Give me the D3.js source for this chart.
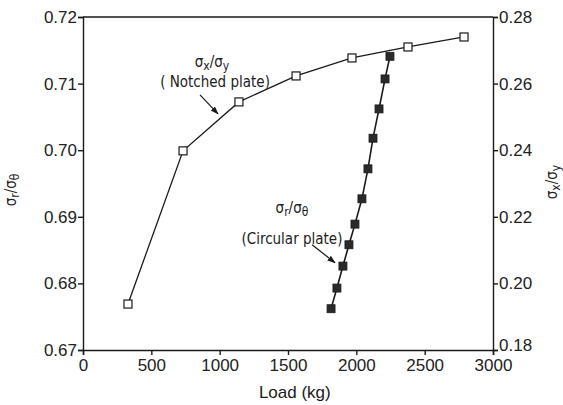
<!DOCTYPE html>
<html><head><meta charset="utf-8">
<script src="https://cdn.jsdelivr.net/npm/d3@7"></script>
<style>
html,body{margin:0;padding:0;background:#fff;}
svg{display:block;}
.tick text{font-family:"Liberation Sans",Arial,sans-serif;font-size:17px;fill:#222;}
.ann{font-family:"Liberation Sans Narrow","DejaVu Sans Condensed","Liberation Sans",sans-serif;font-size:15px;fill:#222;}
</style></head>
<body>
<script>
// Data
const xTicks = [0, 500, 1000, 1500, 2000, 2500, 3000];
const leftTicks = [0.67, 0.68, 0.69, 0.70, 0.71, 0.72];
const rightTicks = [0.18, 0.20, 0.22, 0.24, 0.26, 0.28];

// Notched plate: sigma_x / sigma_y (right axis)
const notchedLoad = [329, 732, 1141, 1559, 1968, 2378, 2788];
const notchedRatio = [0.1938, 0.2398, 0.2545, 0.2623, 0.2677, 0.2710, 0.2740];

// Circular plate: sigma_r / sigma_theta (left axis)
const circLoad = [1815, 1858, 1902, 1946, 1990, 2041, 2085, 2122, 2166, 2210, 2246];
const circRatio = [0.6762, 0.6793, 0.6826, 0.6858, 0.6889, 0.6927, 0.6972, 0.7018, 0.7062, 0.7107, 0.7141];

const W = 563, H = 405;
const svg = d3.select("body").append("svg").attr("width", W).attr("height", H);

const x = d3.scaleLinear().domain([0, 3000]).range([83, 493]);
const yL = d3.scaleLinear().domain([0.67, 0.72]).range([350, 17]);
const yR = d3.scaleLinear().domain([0.18, 0.28]).range([350, 17]);

const ink = "#1a1a1a";

// frame top line
svg.append("line").attr("x1", x(0)).attr("x2", x(3000)).attr("y1", yL(0.72)).attr("y2", yL(0.72))
  .attr("stroke", ink).attr("stroke-width", 1.4);

const xa = svg.append("g").attr("transform", `translate(0,${yL(0.67)})`)
  .call(d3.axisBottom(x).tickValues(xTicks).tickSize(5).tickPadding(4).tickFormat(d3.format("d")));
const la = svg.append("g").attr("transform", `translate(${x(0)},0)`)
  .call(d3.axisLeft(yL).tickValues(leftTicks).tickSize(5).tickPadding(1).tickFormat(d3.format(".2f")));
const ra = svg.append("g").attr("transform", `translate(${x(3000)},0)`)
  .call(d3.axisRight(yR).tickValues(rightTicks).tickSize(5).tickPadding(1).tickFormat(d3.format(".2f")));
[xa, la, ra].forEach(g => {
  g.select(".domain").attr("stroke", ink).attr("stroke-width", 1.4);
  g.selectAll(".tick line").attr("stroke", ink).attr("stroke-width", 1.4);
});
// keep lowest right label clear of the "3000" label
ra.selectAll(".tick text").filter(d => d === rightTicks[0]).attr("dy", "0.05em");

// lines
const notched = notchedLoad.map((l, i) => [l, notchedRatio[i]]);
const circ = circLoad.map((l, i) => [l, circRatio[i]]);

svg.append("path").datum(notched)
  .attr("d", d3.line().x(d => x(d[0])).y(d => yR(d[1])))
  .attr("fill", "none").attr("stroke", ink).attr("stroke-width", 1.3);
svg.append("path").datum(circ)
  .attr("d", d3.line().x(d => x(d[0])).y(d => yL(d[1])))
  .attr("fill", "none").attr("stroke", ink).attr("stroke-width", 1.6);

const s1 = 8;
svg.selectAll(".open").data(notched).enter().append("rect")
  .attr("x", d => x(d[0]) - s1 / 2).attr("y", d => yR(d[1]) - s1 / 2)
  .attr("width", s1).attr("height", s1)
  .attr("fill", "#fff").attr("stroke", ink).attr("stroke-width", 1.2);
const s2 = 8;
svg.selectAll(".filled").data(circ).enter().append("rect")
  .attr("x", d => x(d[0]) - s2 / 2).attr("y", d => yL(d[1]) - s2 / 2)
  .attr("width", s2).attr("height", s2)
  .attr("fill", "#2a2a2a").attr("stroke", ink).attr("stroke-width", 0.8);

// arrowhead
svg.append("defs").append("marker").attr("id", "ah")
  .attr("viewBox", "0 0 10 10").attr("refX", 9).attr("refY", 5)
  .attr("markerWidth", 7).attr("markerHeight", 7).attr("orient", "auto")
  .append("path").attr("d", "M0,1.5 L10,5 L0,8.5 Z").attr("fill", ink);

function ratioLabel(g, a, b, fs) {
  g.append("tspan").text("σ");
  g.append("tspan").attr("font-size", fs * 0.8).attr("dy", 3).text(a);
  g.append("tspan").attr("dy", -3).text("/σ");
  g.append("tspan").attr("font-size", fs * 0.8).attr("dy", 3).text(b);
}

// annotations (anchored in data units)
const tNotch = svg.append("text").attr("class", "ann").attr("text-anchor", "middle")
  .attr("x", x(944)).attr("y", yR(0.2650));
ratioLabel(tNotch, "x", "y", 15);
svg.append("text").attr("class", "ann").attr("text-anchor", "middle")
  .attr("x", x(966)).attr("y", yR(0.2590)).text("( Notched plate)");
svg.append("line").attr("x1", x(856)).attr("y1", yR(0.2566)).attr("x2", x(988)).attr("y2", yR(0.2509))
  .attr("stroke", ink).attr("stroke-width", 1.2).attr("marker-end", "url(#ah)");

const tCirc = svg.append("text").attr("class", "ann").attr("text-anchor", "middle")
  .attr("x", x(1529)).attr("y", yL(0.6906));
ratioLabel(tCirc, "r", "θ", 15);
svg.append("text").attr("class", "ann").attr("text-anchor", "middle")
  .attr("x", x(1529)).attr("y", yL(0.6859)).text("(Circular plate)");
svg.append("line").attr("x1", x(1676)).attr("y1", yL(0.6858)).attr("x2", x(1844)).attr("y2", yL(0.6831))
  .attr("stroke", ink).attr("stroke-width", 1.2).attr("marker-end", "url(#ah)");

// axis titles
const lt = svg.append("text").attr("class", "ann").attr("text-anchor", "middle")
  .attr("transform", "translate(16,190) rotate(-90)");
ratioLabel(lt, "r", "θ", 15);
const rt = svg.append("text").attr("class", "ann").attr("text-anchor", "middle")
  .attr("transform", "translate(557,182) rotate(-90)");
ratioLabel(rt, "x", "y", 15);
svg.append("text").attr("x", x(1550)).attr("y", 398).attr("text-anchor", "middle")
  .attr("font-family", "Liberation Sans, Arial, sans-serif").attr("font-size", 17).attr("fill", ink)
  .text("Load (kg)");
</script>
</body></html>
